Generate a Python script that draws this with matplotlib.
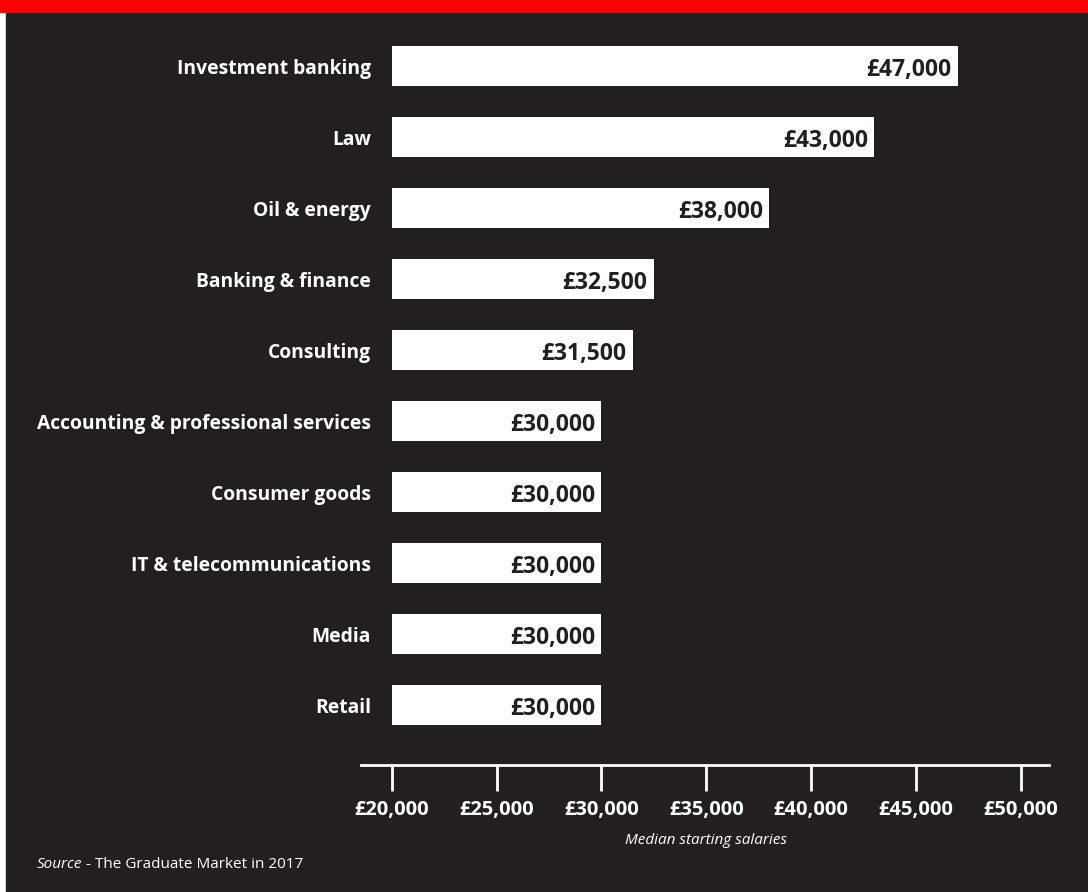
import matplotlib
matplotlib.use("Agg")
import matplotlib.pyplot as plt
from matplotlib.patches import Rectangle

sectors = ["Investment banking", "Law", "Oil & energy", "Banking & finance",
           "Consulting", "Accounting & professional services", "Consumer goods",
           "IT & telecommunications", "Media", "Retail"]
salaries = [47000, 43000, 38000, 32500, 31500, 30000, 30000, 30000, 30000, 30000]
ticks = [20000, 25000, 30000, 35000, 40000, 45000, 50000]

bg = "#231f20"
red = "#ff0000"
plt.rcParams['font.family'] = ['Open Sans', 'DejaVu Sans']

W, H = 1088, 892
fig = plt.figure(figsize=(W / 100, H / 100), dpi=100)
fig.patch.set_facecolor("white")

# dark panel + red band on top
fig.add_artist(Rectangle((6 / W, 0), 1, 1, transform=fig.transFigure, color=bg, zorder=0))
fig.add_artist(Rectangle((0, 1 - 12 / H), 1, 12 / H, transform=fig.transFigure, color=red, zorder=1))

ax = fig.add_axes([361 / W, 1 - 765 / H, (1049 - 361) / W, (765 - 20) / H])
ax.set_facecolor(bg)
ax.patch.set_alpha(0)

base = 20000
pos = list(range(len(sectors)))
ax.barh(pos, [s - base for s in salaries], left=base, height=0.56, color="white")
for p, s in zip(pos, salaries):
    ax.text(s - 300, p + 0.05, "£{:,}".format(s), ha="right", va="center",
            color=bg, fontsize=16.5, fontweight="bold")

ax.set_xlim(18536, 51350)
ax.set_ylim(9.845, (20 - 66) / 71)
ax.set_yticks(pos)
ax.set_yticklabels(sectors, color="white", fontsize=13.9, fontweight="bold")
ax.tick_params(axis="y", length=0, pad=-7.2)
ax.set_xticks(ticks)
ax.set_xticklabels(["£{:,}".format(t) for t in ticks], color="white",
                   fontsize=14.5, fontweight="bold")
ax.tick_params(axis="x", length=19, width=2, color="white", pad=6)
for side in ["top", "right", "left"]:
    ax.spines[side].set_visible(False)
ax.spines["bottom"].set_color("white")
ax.spines["bottom"].set_linewidth(2)
ax.set_xlabel("Median starting salaries", color="white", fontsize=11,
              style="italic")
ax.xaxis.set_label_coords((706 - 361) / (1049 - 361), -(840 - 765) / (765 - 20))
ax.xaxis.label.set_va("center")

# source line: italic word followed by plain text
src = fig.text(37 / W, 1 - 864 / H, "Source", color="white", fontsize=11,
               style="italic", va="center")
fig.canvas.draw()
bb = src.get_window_extent()
fig.text((bb.x1 + 4) / W, 1 - 864 / H, "- The Graduate Market in 2017",
         color="white", fontsize=11, va="center")

fig.savefig("out.png", dpi=100, facecolor=fig.get_facecolor())
